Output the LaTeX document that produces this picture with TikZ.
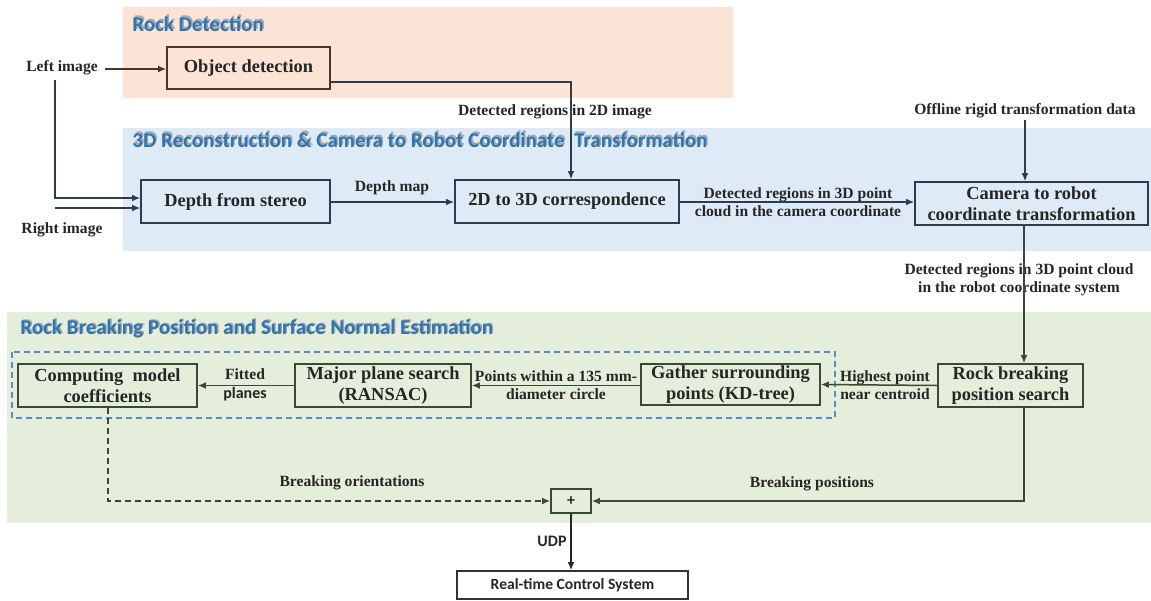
\documentclass[tikz,border=0pt]{standalone}
\usepackage{fontspec}
\setmainfont{Liberation Serif}
\newfontfamily\calib{Carlito}
\usetikzlibrary{arrows.meta,calc}
\definecolor{orfill}{HTML}{FBE4D5}
\definecolor{blfill}{HTML}{DEEAF5}
\definecolor{grfill}{HTML}{E4EEDA}
\definecolor{brn}{HTML}{4A3426}
\definecolor{slate}{HTML}{2E3D4B}
\definecolor{dgr}{HTML}{3A4A32}
\definecolor{ttl}{HTML}{2E75B6}
\definecolor{dashb}{HTML}{5B8BC4}
\tikzset{
  boxn/.style={draw, line width=0.8pt, inner sep=0pt, align=center, font=\fontsize{9.2}{10.5}\selectfont\bfseries, text=black!85},
  lbl/.style={inner sep=0pt, align=center, font=\fontsize{7.8}{9.2}\selectfont\bfseries, text=black!85},
  conn/.style={line width=0.75pt, -{Latex[length=4pt,width=3.4pt]}},
  plainline/.style={line width=0.75pt},
  region/.style={draw=none},
}
\newcommand{\ttltext}[3]{%
  \node[anchor=west, inner sep=0pt, text=black!35, font=\calib\fontsize{10.5}{12}\selectfont\bfseries] at ($(#1,#2)+(0.7pt,0.7pt)$) {#3};
  \node[anchor=west, inner sep=0pt, text=ttl, font=\calib\fontsize{10.5}{12}\selectfont\bfseries] at (#1,#2) {#3};}
\begin{document}
\begin{tikzpicture}[x=0.5pt,y=-0.5pt]
\useasboundingbox (0,0) rectangle (1151,600);
\fill[white] (0,0) rectangle (1151,600);
% regions
\fill[orfill] (123,7) rectangle (733,98);
\fill[blfill] (123,128) rectangle (1151,251);
\fill[grfill] (7,312) rectangle (1151,523);
\ttltext{132}{24}{Rock Detection}
\ttltext{132}{140}{3D Reconstruction \& Camera to Robot Coordinate \ Transformation}
\ttltext{20}{329}{Rock Breaking Position and Surface Normal Estimation}
% dashed group
\draw[dashb, dashed, line width=0.7pt, dash pattern=on 3pt off 2pt] (12,352) rectangle (835,418);
% boxes
\node[boxn, draw=brn, fill=orfill, minimum width=81.5pt, minimum height=21pt] (obj) at (248.5,68) {Object detection};
\node[boxn, draw=slate, fill=blfill, minimum width=94.5pt, minimum height=21.5pt] (dfs) at (235.5,201.5) {Depth from stereo};
\node[boxn, draw=slate, fill=blfill, minimum width=112pt, minimum height=21.5pt] (corr) at (567,201.5) {2D to 3D correspondence};
\node[boxn, draw=slate, fill=blfill, minimum width=116.5pt, minimum height=21.5pt] (cam) at (1031.5,203.5) {Camera to robot\\coordinate transformation};
\node[boxn, draw=dgr, fill=grfill, minimum width=72.5pt, minimum height=21.5pt] (rbp) at (1010.5,385.5) {Rock breaking\\position search};
\node[boxn, draw=dgr, fill=grfill, minimum width=89.5pt, minimum height=20.5pt] (gat) at (730.5,384.5) {Gather surrounding\\points (KD-tree)};
\node[boxn, draw=dgr, fill=grfill, minimum width=88pt, minimum height=21.5pt] (maj) at (383,385.5) {Major plane search\\(RANSAC)};
\node[boxn, draw=dgr, fill=grfill, minimum width=89.5pt, minimum height=21.5pt] (cmc) at (107.5,385.5) {Computing \ model\\coefficients};
\node[boxn, draw=dgr, fill=grfill, minimum width=20pt, minimum height=12pt, font=\calib\fontsize{8}{9}\selectfont\bfseries] (plus) at (571,501) {+};
\node[boxn, draw=black!80, fill=white, minimum width=115.5pt, minimum height=14pt, font=\calib\fontsize{7.8}{9}\selectfont\bfseries] (rtc) at (572.5,585) {Real-time Control System};
% labels
\node[lbl] (limg) at (62,68) {Left image};
\node[lbl] (rimg) at (62,230) {Right image};
\node[lbl] (l2d) at (555,112) {Detected regions in 2D image};
\node[lbl] (ldm) at (392,188) {Depth map};
\node[lbl] (l3d) at (798,202) {Detected regions in 3D point\\cloud in the camera coordinate};
\node[lbl] (loff) at (1025,111) {Offline rigid transformation data};
\node[lbl] (lrob) at (1019,280) {Detected regions in 3D point cloud\\in the robot coordinate system};
\node[lbl] (lhp) at (885,385) {Highest point\\near centroid};
\node[lbl] (lpw) at (556,385) {Points within a 135 mm-\\diameter circle};
\node[lbl] (lfp) at (245,385) {Fitted\\{\calib\fontsize{8}{9.2}\selectfont\bfseries planes}};
\node[lbl] (lbo) at (352,483) {Breaking orientations};
\node[lbl] (lbp) at (812,484) {Breaking positions};
\node[lbl, font=\calib\fontsize{8}{9}\selectfont\bfseries] (ludp) at (552,541) {UDP};
% helper coordinates
\coordinate (cL1) at (105,69);
\coordinate (cV) at (55,80);
\coordinate (cR1) at (55,208);
\coordinate (c2dx) at (571,0);
\coordinate (cOffTop) at (1025,120);
\coordinate (cCamX) at (1024,0);
\coordinate (cCmcX) at (108,0);
\coordinate (cRow) at (0,501);
% connectors
\draw[conn, brn] (cL1) -- (obj.west |- cL1);
\draw[conn, slate] (cV) |- (dfs.west |- 0,198);
\draw[conn, slate] (cR1) -- (dfs.west |- cR1);
\draw[conn, slate] (obj.east |- 0,82) -| (corr.north -| c2dx);
\draw[conn, slate] (dfs.east |- 0,202) -- (corr.west |- 0,202);
\draw[conn, slate] (corr.east |- 0,202) -- (cam.west |- 0,202);
\draw[conn, slate] (cOffTop) -- (cam.north -| cOffTop);
\draw[conn, dgr] (cam.south -| cCamX) -- (rbp.north -| cCamX);
\draw[conn, dgr] (rbp.west) -- (gat.east);
\draw[conn, dgr] (gat.west |- maj.east) -- (maj.east);
\draw[conn, dgr] (maj.west) -- (cmc.east);
\draw[conn, dgr, dashed, dash pattern=on 3pt off 2pt] (cmc.south -| cCmcX) |- (plus.west);
\draw[conn, dgr] (rbp.south -| cCamX) |- (plus.east);
\draw[conn, black!85] (plus.south) -- (rtc.north -| plus.south);
\end{tikzpicture}
\end{document}
